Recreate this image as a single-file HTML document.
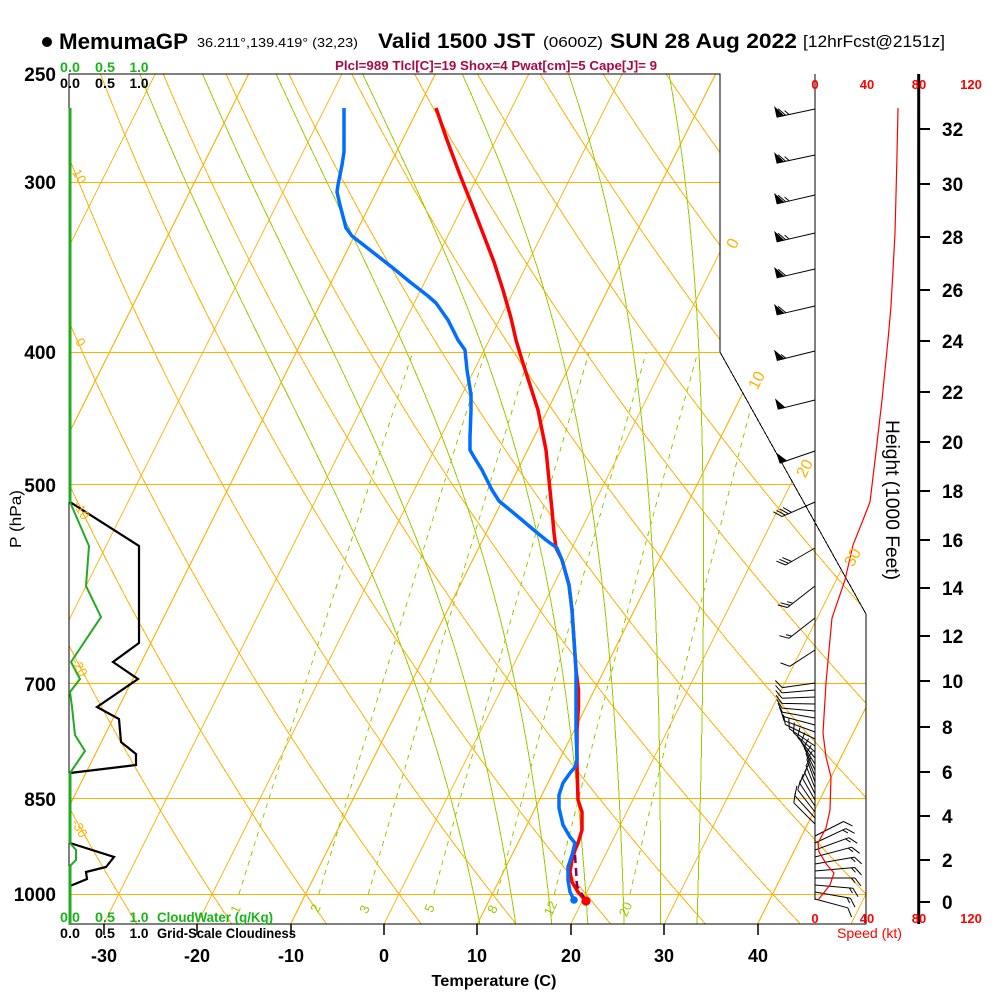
<!DOCTYPE html>
<html><head><meta charset="utf-8">
<style>
html,body{margin:0;padding:0;background:#fff;}
svg{display:block;}
text{font-family:"Liberation Sans",Arial,sans-serif;}
</style></head>
<body>
<svg id="s" width="1000" height="1000" viewBox="0 0 1000 1000" xmlns="http://www.w3.org/2000/svg">
<defs><clipPath id="cp"><polygon points="69,74 720,74 720,352 866,614 866,924 69,924"/></clipPath></defs>
<rect x="0" y="0" width="1000" height="1000" fill="#fff"/>
<g id="grid" clip-path="url(#cp)" fill="none" stroke-width="1" shape-rendering="crispEdges"></g>

<!-- frame -->
<polyline points="69,74 720,74 720,352 866,614 866,924 69,924 69,74" fill="none" stroke="#000" stroke-width="1" shape-rendering="crispEdges"/>
<!-- bottom ticks -->
<g stroke="#000" stroke-width="1.5">
<line x1="104" y1="924" x2="104" y2="935"/><line x1="197" y1="924" x2="197" y2="935"/><line x1="291" y1="924" x2="291" y2="935"/><line x1="384" y1="924" x2="384" y2="935"/><line x1="477" y1="924" x2="477" y2="935"/><line x1="571" y1="924" x2="571" y2="935"/><line x1="664" y1="924" x2="664" y2="935"/><line x1="758" y1="924" x2="758" y2="935"/>
</g>

<!-- cloud profiles -->
<g fill="none" stroke-linejoin="miter">
<polyline points="70,502 139,546 139,643 113,662 138,679 97,707 119,719 121,742 136,754 136,765 70,773" stroke="#000" stroke-width="2.2"/>
<polyline points="70,843 114,857 106,867 86,872 87,879 70,886" stroke="#000" stroke-width="2.2"/>
<polyline points="70,502 89,546 86,586 101,617 71,662 80,679 70,692 72,707 75,735 85,751 70,773" stroke="#22aa22" stroke-width="2"/>
<polyline points="70,843 76,850 76,860 70,866" stroke="#22aa22" stroke-width="2"/>
<line x1="70" y1="108" x2="70" y2="502" stroke="#22aa22" stroke-width="3"/>
<line x1="70" y1="773" x2="70" y2="843" stroke="#22aa22" stroke-width="3"/>
<line x1="70" y1="866" x2="70" y2="924" stroke="#22aa22" stroke-width="3"/>
</g>

<!-- wind / height axes -->
<line x1="815" y1="74" x2="815" y2="900" stroke="#000" stroke-width="1"/>
<line x1="918.7" y1="74" x2="918.7" y2="924" stroke="#000" stroke-width="3"/>
<g stroke="#000" stroke-width="2">
<line x1="919" y1="902" x2="930" y2="902"/><line x1="919" y1="860" x2="930" y2="860"/><line x1="919" y1="816" x2="930" y2="816"/><line x1="919" y1="772" x2="930" y2="772"/><line x1="919" y1="727" x2="930" y2="727"/><line x1="919" y1="681" x2="930" y2="681"/><line x1="919" y1="636" x2="930" y2="636"/><line x1="919" y1="588" x2="930" y2="588"/><line x1="919" y1="540" x2="930" y2="540"/><line x1="919" y1="491" x2="930" y2="491"/><line x1="919" y1="442" x2="930" y2="442"/><line x1="919" y1="392" x2="930" y2="392"/><line x1="919" y1="341" x2="930" y2="341"/><line x1="919" y1="290" x2="930" y2="290"/><line x1="919" y1="237" x2="930" y2="237"/><line x1="919" y1="184" x2="930" y2="184"/><line x1="919" y1="129" x2="930" y2="129"/>
</g>
<g id="barbs"></g>
<!-- speed profile -->
<polyline points="898,108 897,155 896,195 895,233 893,270 891,306 888,340 887,350 882,400 876,452 870,502 863,520 853,545 845,580 832,618 829,650 826,683 823,733 826,757 831,777 830,810 826,828 818,843 819,852 827,865 834,873 830,885 822,895 818,900" fill="none" stroke="#ff0000" stroke-width="1.2"/>

<!-- temperature / dewpoint -->
<polyline points="436,108 447,140 460,175 472,205 484,236 494,262 503,290 511,318 516,340 522,360 530,385 538,410 542,430 546,450 549,480 552,510 554,533 556,548 562,560 569,585 572,610 574,640 576,670 578.5,690 578.5,706 577,730 577,765 578,800 582,812 582,830 578,843 575,850 572,860 570,872 572,882 578,892 586,901" fill="none" stroke="#ff0000" stroke-width="3.5" stroke-linejoin="round"/>
<polyline points="344,108 344,152 342,165 338,185 337,192 340,205 346,228 352,236 370,250 393,268 410,282 428,296 436,303 448,320 458,340 465,350 467,370 471,395 471,410 470,437 470,450 474,457 482,470 492,490 499,501 510,510 522,520 535,531 546,540 557,548 562,560 569,585 572,610 574,640 576,670 576,700 576,730 577,760 575,767 570,773 563,783 559,795 559,808 563,825 570,837 575,843 572,855 568,867 568,880 570,892 574,900" fill="none" stroke="#006eff" stroke-width="3.5" stroke-linejoin="round"/>
<polyline points="575,855 576,870 577,886 585,899" fill="none" stroke="#800060" stroke-width="2.5" stroke-dasharray="8,5"/>
<circle cx="574" cy="900" r="3.8" fill="#006eff"/>
<circle cx="586" cy="901" r="4.6" fill="#ff0000"/>

<!-- header -->
<circle cx="47" cy="42" r="5" fill="#000"/>
<text x="59" y="49" font-size="22" font-weight="bold" textLength="129" lengthAdjust="spacingAndGlyphs">MemumaGP</text>
<text x="197" y="47" font-size="13" textLength="161" lengthAdjust="spacingAndGlyphs">36.211°,139.419° (32,23)</text>
<text x="378" y="48" font-size="21.5" font-weight="bold" textLength="157" lengthAdjust="spacingAndGlyphs">Valid 1500 JST</text>
<text x="543" y="47" font-size="15" textLength="60" lengthAdjust="spacingAndGlyphs">(0600Z)</text>
<text x="610" y="48" font-size="21.5" font-weight="bold" textLength="187" lengthAdjust="spacingAndGlyphs">SUN 28 Aug 2022</text>
<text x="803" y="47" font-size="17" textLength="142" lengthAdjust="spacingAndGlyphs">[12hrFcst@2151z]</text>
<text x="335" y="70" font-size="13" font-weight="bold" fill="#aa0a44" textLength="322" lengthAdjust="spacingAndGlyphs">Plcl=989 Tlcl[C]=19 Shox=4 Pwat[cm]=5 Cape[J]= 9</text>

<!-- cloud scale labels -->
<g font-size="14" font-weight="bold" text-anchor="middle">
<text x="70" y="72" fill="#18b418" textLength="20" lengthAdjust="spacingAndGlyphs">0.0</text>
<text x="105" y="72" fill="#18b418" textLength="20" lengthAdjust="spacingAndGlyphs">0.5</text>
<text x="139" y="72" fill="#18b418" textLength="19" lengthAdjust="spacingAndGlyphs">1.0</text>
<text x="70" y="88" fill="#000" textLength="20" lengthAdjust="spacingAndGlyphs">0.0</text>
<text x="105" y="88" fill="#000" textLength="20" lengthAdjust="spacingAndGlyphs">0.5</text>
<text x="139" y="88" fill="#000" textLength="19" lengthAdjust="spacingAndGlyphs">1.0</text>
<text x="70" y="922" fill="#18b418" textLength="20" lengthAdjust="spacingAndGlyphs">0.0</text>
<text x="105" y="922" fill="#18b418" textLength="20" lengthAdjust="spacingAndGlyphs">0.5</text>
<text x="139" y="922" fill="#18b418" textLength="19" lengthAdjust="spacingAndGlyphs">1.0</text>
<text x="70" y="938" fill="#000" textLength="20" lengthAdjust="spacingAndGlyphs">0.0</text>
<text x="105" y="938" fill="#000" textLength="20" lengthAdjust="spacingAndGlyphs">0.5</text>
<text x="139" y="938" fill="#000" textLength="19" lengthAdjust="spacingAndGlyphs">1.0</text>
</g>
<text x="157" y="922" font-size="14" font-weight="bold" fill="#18b418" textLength="116" lengthAdjust="spacingAndGlyphs">CloudWater (g/Kg)</text>
<text x="157" y="938" font-size="14" font-weight="bold" fill="#000" textLength="139" lengthAdjust="spacingAndGlyphs">Grid-Scale Cloudiness</text>

<!-- pressure labels -->
<g font-size="19" font-weight="bold" text-anchor="end">
<text x="56" y="81">250</text>
<text x="56" y="189">300</text>
<text x="56" y="359">400</text>
<text x="56" y="492">500</text>
<text x="56" y="691">700</text>
<text x="56" y="806">850</text>
<text x="56" y="901">1000</text>
</g>
<text x="21" y="519" font-size="16" text-anchor="middle" transform="rotate(-90 21 519)" textLength="58" lengthAdjust="spacingAndGlyphs">P (hPa)</text>

<!-- temperature labels -->
<g font-size="18" font-weight="bold" text-anchor="middle">
<text x="104" y="962">-30</text>
<text x="197" y="962">-20</text>
<text x="291" y="962">-10</text>
<text x="384" y="962">0</text>
<text x="477" y="962">10</text>
<text x="571" y="962">20</text>
<text x="664" y="962">30</text>
<text x="758" y="962">40</text>
</g>
<text x="494" y="986" font-size="16" font-weight="bold" text-anchor="middle" textLength="125" lengthAdjust="spacingAndGlyphs">Temperature (C)</text>

<!-- height labels -->
<g font-size="19" font-weight="bold">
<text x="942" y="909">0</text>
<text x="942" y="867">2</text>
<text x="942" y="823">4</text>
<text x="942" y="779">6</text>
<text x="942" y="734">8</text>
<text x="942" y="688">10</text>
<text x="942" y="643">12</text>
<text x="942" y="595">14</text>
<text x="942" y="547">16</text>
<text x="942" y="498">18</text>
<text x="942" y="449">20</text>
<text x="942" y="399">22</text>
<text x="942" y="348">24</text>
<text x="942" y="297">26</text>
<text x="942" y="244">28</text>
<text x="942" y="191">30</text>
<text x="942" y="136">32</text>
</g>
<text x="886" y="500" font-size="19" text-anchor="middle" transform="rotate(90 886 500)" textLength="160" lengthAdjust="spacingAndGlyphs">Height (1000 Feet)</text>

<!-- speed labels -->
<g font-size="13" font-weight="bold" fill="#ff0000" text-anchor="middle">
<text x="815" y="89">0</text><text x="867" y="89">40</text><text x="919" y="89">80</text><text x="971" y="89">120</text>
<text x="815" y="923">0</text><text x="867" y="923">40</text><text x="919" y="923">80</text><text x="971" y="923">120</text>
</g>
<text x="837" y="938" font-size="14" fill="#ff0000" textLength="65" lengthAdjust="spacingAndGlyphs">Speed (kt)</text>

<!-- isotherm labels (right) -->
<g font-size="16" fill="#ffb000" text-anchor="middle">
<text x="732" y="249" transform="rotate(-63 732 243)">0</text>
<text x="756" y="386" transform="rotate(-63 756 380)">10</text>
<text x="804" y="474" transform="rotate(-63 804 468)">20</text>
<text x="852" y="563" transform="rotate(-63 852 557)">30</text>
</g>
<!-- dry adiabat labels (left) -->
<g font-size="13" fill="#ffb000" text-anchor="middle">
<text x="80" y="181" transform="rotate(60 80 176)">10</text>
<text x="81" y="347" transform="rotate(60 81 342)">0</text>
<text x="82" y="515" transform="rotate(60 82 510)">-10</text>
<text x="80" y="672" transform="rotate(60 80 667)">-20</text>
<text x="80" y="833" transform="rotate(60 80 828)">-30</text>
</g>
<!-- mixing ratio labels -->
<g font-size="13" fill="#99cc00" text-anchor="middle">
<text x="235" y="914" transform="rotate(-65 235 909)">1</text>
<text x="315" y="913" transform="rotate(-65 315 908)">2</text>
<text x="364" y="914" transform="rotate(-65 364 909)">3</text>
<text x="429" y="913" transform="rotate(-65 429 908)">5</text>
<text x="492" y="914" transform="rotate(-65 492 909)">8</text>
<text x="550" y="913" transform="rotate(-65 550 908)">12</text>
<text x="625" y="914" transform="rotate(-65 625 909)">20</text>
</g>
</svg>
<script>
(function(){
const NS="http://www.w3.org/2000/svg";
function el(parent,tag,attrs){const e=document.createElementNS(NS,tag);for(const k in attrs)e.setAttribute(k,attrs[k]);parent.appendChild(e);return e;}
const X0=384,K=9.34,YB=924;
const yP=p=>894+591.5*Math.log(p/1000);
const xTY=(T,y)=>X0+K*T+0.5*(YB-y);
const P=pts=>'M'+pts.map(q=>q[0].toFixed(1)+' '+q[1].toFixed(1)).join(' L');
const grid=document.getElementById('grid');
const OR='#ffb000',GR='#99cc00';
// isotherms
for(let T=-120;T<=60;T+=10){el(grid,'line',{x1:xTY(T,930),y1:930,x2:xTY(T,70),y2:70,stroke:OR});}
// dry adiabats
for(let th=-60;th<=170;th+=10){const pts=[];for(let p=1070;p>=240;p-=5){const T=(th+273.15)*Math.pow(p/1000,0.2857)-273.15;const y=yP(p);pts.push([xTY(T,y),y]);}el(grid,'path',{d:P(pts),stroke:OR});}
// moist adiabats
function es(Tc){return 6.112*Math.exp(17.67*Tc/(Tc+243.5));}
function dTdp(T,p){const e=es(T-273.15);const r=0.622*e/(p-e);const Lv=2.501e6,Rd=287.04,Cp=1005.7;return (Rd*T+Lv*r)/(p*(Cp+Lv*Lv*r*0.622/(Rd*T*T)));}
[8,12,16,20,24,28,32].forEach(tw=>{
 const up=[];let T=tw+273.15,p=1000;
 while(p>=240){up.push([p,T]);const dp=-2;const k1=dTdp(T,p);const k2=dTdp(T+k1*dp,p+dp);T+=0.5*(k1+k2)*dp;p+=dp;}
 const dn=[];T=tw+273.15;p=1000;
 while(p<1070){const dp=2;const k1=dTdp(T,p);const k2=dTdp(T+k1*dp,p+dp);T+=0.5*(k1+k2)*dp;p+=dp;dn.push([p,T]);}
 const all=dn.reverse().concat(up).map(q=>{const y=yP(q[0]);return [xTY(q[1]-273.15,y),y];});
 el(grid,'path',{d:P(all),stroke:GR});
});
// mixing ratio
[1,2,3,5,8,12,20].forEach(w=>{const pts=[];for(let p=1000;p>=400;p-=10){const r=w/1000;const e=r*p/(0.622+r);const L=Math.log(e/6.112);const T=243.5*L/(17.67-L);const y=yP(p);pts.push([xTY(T,y),y]);}el(grid,'path',{d:P(pts),stroke:GR,'stroke-dasharray':'5,5'});});
// isobars
[300,400,500,700,850,1000].forEach(p=>{const y=Math.round(yP(p))+0.5;el(grid,'line',{x1:69,y1:y,x2:870,y2:y,stroke:OR});});
// barbs
const bg=document.getElementById('barbs');
function barb(y,adeg,L,spd){
 const a=adeg*Math.PI/180,dx=Math.cos(a),dy=Math.sin(a);
 const tx=815+dx*L,ty=y+dy*L;
 let d='M815 '+y+' L'+tx.toFixed(1)+' '+ty.toFixed(1);
 const nx=-dy,ny=dx;
 let vx=nx*0.8+dx*0.6,vy=ny*0.8+dy*0.6;
 let s=Math.round(spd/5)*5,pos=0,tri='';
 while(s>=50){const p0x=tx-dx*pos,p0y=ty-dy*pos,p1x=tx-dx*(pos+7),p1y=ty-dy*(pos+7);tri+='M'+p0x.toFixed(1)+' '+p0y.toFixed(1)+' L'+(p0x+nx*10).toFixed(1)+' '+(p0y+ny*10).toFixed(1)+' L'+p1x.toFixed(1)+' '+p1y.toFixed(1)+' Z';pos+=9;s-=50;}
 while(s>=10){const bx=tx-dx*pos,by=ty-dy*pos;d+=' M'+bx.toFixed(1)+' '+by.toFixed(1)+' L'+(bx+vx*10).toFixed(1)+' '+(by+vy*10).toFixed(1);pos+=3.5;s-=10;}
 if(s>=5){if(pos==0)pos=3.5;const bx=tx-dx*pos,by=ty-dy*pos;d+=' M'+bx.toFixed(1)+' '+by.toFixed(1)+' L'+(bx+vx*6).toFixed(1)+' '+(by+vy*6).toFixed(1);}
 el(bg,'path',{d:d,stroke:'#000',fill:'none','stroke-width':1});
 if(tri)el(bg,'path',{d:tri,fill:'#000',stroke:'#000','stroke-width':0.8});
}
[[109,168,39,65],[155,168,39,65],[195,167,39,65],[233,167,39,65],[269,167,39,60],[306,167,39,60],[351,166,39,55],[400,166,38,50],[451,161,37,50],[502,156,36,40],[548,150,34,30],[586,142,35,25],[618,142,33,15],[650,147,30,10],
[683,172,33,10],[690,175,33,10],[697,178,33,10],[704,181,33,10],[711,185,33,10],[718,190,33,10],[725,195,33,10],[732,200,33,10],[739,206,33,10],[746,214,31,10],[752,222,29,10],[758,230,27,10],[764,238,26,10],[770,244,25,10],[776,248,24,10],[782,250,24,10],[788,248,24,10],[794,244,24,10],[800,240,25,10],[806,236,27,10],[812,232,28,10],[818,228,30,10],[824,225,30,10],
[836,333,32,10],[843,335,34,15],[850,340,36,15],[857,345,38,15],[864,350,40,15],[871,355,40,15],[878,0,40,15],[885,5,38,15],[892,10,36,15],[899,15,34,10]
].forEach(b=>barb(b[0],b[1],b[2],b[3]));
})();
</script>
</body></html>
